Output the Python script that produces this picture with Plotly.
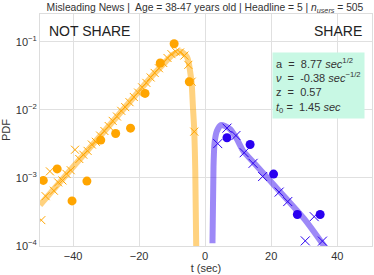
import plotly.graph_objects as go

# ---- data ----
ns_circ_t = [-49.0, -44.8, -40.3, -35.8, -31.6, -27.1, -22.6, -18.2, -13.6, -9.4, -4.8]
ns_circ_y = [9.2e-4, 1.36e-3, 4.6e-4, 9.0e-4, 3.6e-3, 4.5e-3, 5.4e-3, 1.75e-2, 4.9e-2, 9.4e-2, 2.6e-2]

ns_x_t = [-49.6, -48.3, -47.0, -45.8, -44.5, -43.2, -42.0, -40.7, -39.4, -38.1, -36.9, -35.6,
          -34.3, -33.1, -31.8, -30.5, -29.2, -28.0, -26.7, -25.4, -24.2, -22.9, -21.6, -20.3,
          -19.1, -17.8, -16.5, -15.3, -14.0, -12.7, -11.4, -10.2, -8.9, -7.6, -6.3, -5.1, -4.1, -3.3]
ns_x_y = [2.4e-4, 5.4e-4, 1.25e-3, 6.5e-4, 8.6e-4, 9.2e-4, 1.15e-3, 1.3e-3, 2.6e-3, 1.9e-3, 2.2e-3, 2.5e-3,
          3.1e-3, 3.4e-3, 4.2e-3, 4.9e-3, 5.8e-3, 6.9e-3, 8.0e-3, 9.7e-3, 1.1e-2, 1.3e-2, 1.55e-2, 1.8e-2,
          2.15e-2, 2.5e-2, 3.0e-2, 3.5e-2, 4.1e-2, 4.9e-2, 5.8e-2, 6.6e-2, 7.2e-2, 7.0e-2, 6.3e-2, 4.6e-2, 2.6e-2, 4.8e-3]

ns_fit_t = [-50, -40, -30, -20, -15, -12, -10, -8.5, -7.5, -6.5, -5.5, -5.0, -4.6, -4.1, -3.7, -3.3, -3.0, -2.7]
ns_fit_y = [4.0e-4, 1.45e-3, 5.2e-3, 1.9e-2, 3.6e-2, 5.1e-2, 6.4e-2, 7.0e-2, 7.2e-2, 6.8e-2, 6.0e-2,
            5.0e-2, 3.8e-2, 2.5e-2, 1.1e-2, 5.0e-3, 1.3e-3, 9.0e-5]

sh_circ_t = [6.6, 13.6, 20.7, 27.9, 34.8]
sh_circ_y = [3.9e-3, 3.1e-3, 1.14e-3, 2.9e-4, 2.9e-4]

sh_x_t = [3.8, 6.6, 9.3, 11.8, 14.5, 17.4, 22.4, 25.0, 30.3, 33.0, 35.5]
sh_x_y = [3.2e-3, 5.4e-3, 4.2e-3, 2.35e-3, 1.64e-3, 1.05e-3, 6.2e-4, 4.5e-4, 1.19e-4, 2.7e-4, 1.18e-4]

sh_fit_t = [2.21, 2.52, 2.82, 3.55, 4.76, 6.0, 7.58, 9.5, 11.5, 15, 20, 25, 30, 36, 37]
sh_fit_y = [1.1e-4, 1.45e-3, 3.2e-3, 4.9e-3, 6.0e-3, 5.8e-3, 5.2e-3, 3.8e-3, 2.5e-3, 1.62e-3, 8.7e-4, 4.7e-4, 2.5e-4, 1.0e-4, 8.5e-5]

x_ticks = [-40, -20, 0, 20, 40]
x_tick_text = ["\u221240", "\u221220", "0", "20", "40"]
y_ticks = [1e-4, 1e-3, 1e-2, 1e-1]
y_tick_text = ["10<sup>\u22124</sup>", "10<sup>\u22123</sup>", "10<sup>\u22122</sup>", "10<sup>\u22121</sup>"]

ORANGE = "#FFA500"
ORANGE_LINE = "rgba(255,165,0,0.5)"
BLUE = "#2A00F0"
BLUE_LINE = "rgba(60,20,240,0.5)"

fig = go.Figure()
fig.add_trace(go.Scatter(x=ns_fit_t, y=ns_fit_y, mode="lines", line=dict(color=ORANGE_LINE, width=6, shape="spline", smoothing=0.6), showlegend=False, hoverinfo="skip"))
fig.add_trace(go.Scatter(x=sh_fit_t, y=sh_fit_y, mode="lines", line=dict(color=BLUE_LINE, width=6, shape="spline", smoothing=0.6), showlegend=False, hoverinfo="skip"))
fig.add_trace(go.Scatter(x=ns_x_t, y=ns_x_y, mode="markers", marker=dict(symbol="x-thin", size=8, line=dict(color=ORANGE, width=1)), showlegend=False))
fig.add_trace(go.Scatter(x=sh_x_t, y=sh_x_y, mode="markers", marker=dict(symbol="x-thin", size=9, line=dict(color=BLUE, width=1)), showlegend=False))
fig.add_trace(go.Scatter(x=ns_circ_t, y=ns_circ_y, mode="markers", marker=dict(symbol="circle", size=9, color=ORANGE), showlegend=False))
fig.add_trace(go.Scatter(x=sh_circ_t, y=sh_circ_y, mode="markers", marker=dict(symbol="circle", size=9, color=BLUE), showlegend=False))

FONT = "Liberation Sans, Arial, sans-serif"

fig.update_layout(
    width=374, height=275,
    margin=dict(l=40, r=2, t=14, b=29),
    paper_bgcolor="white", plot_bgcolor="white",
    font=dict(family=FONT, size=11, color="#333"),
    title=dict(text="Misleading News |  Age = 38-47 years old | Headline = 5 | <i>n</i><sub><i>users</i></sub> = 505",
               x=0.548, xanchor="center", y=0.972, yanchor="middle", font=dict(size=10.3, color="#333")),
    xaxis=dict(range=[-50, 50.5], tickvals=x_ticks, ticktext=x_tick_text, showgrid=True, gridcolor="#e0e0e0",
               zeroline=False, showline=True, linecolor="#dddddd", mirror=True, ticks="",
               title=dict(text="t (sec)", standoff=2, font=dict(size=11))),
    yaxis=dict(type="log", range=[-4, -0.59], tickvals=y_ticks, ticktext=y_tick_text, showgrid=True, gridcolor="#e0e0e0",
               zeroline=False, showline=True, linecolor="#dddddd", mirror=True, ticks="",
               title=dict(text="PDF", standoff=4, font=dict(size=11))),
    annotations=[
        dict(text="NOT SHARE", xref="paper", yref="paper", x=0.02, y=0.925, xanchor="left", yanchor="middle",
             showarrow=False, font=dict(size=14, color="#222")),
        dict(text="SHARE", xref="paper", yref="paper", x=0.975, y=0.925, xanchor="right", yanchor="middle",
             showarrow=False, font=dict(size=14, color="#222")),
        dict(text="a  =  8.77 <i>sec</i><sup>1/2</sup><br><i>\u03bd</i>  =  -0.38 <i>sec</i><sup>\u22121/2</sup><br>z  =  0.57<br><i>t</i><sub>0</sub> =  1.45 <i>sec</i>",
             xref="paper", yref="paper", x=0.70, y=0.835, xanchor="left", yanchor="top", align="left",
             showarrow=False, bgcolor="#c8f8e4", borderpad=3, font=dict(size=11, color="#333")),
    ],
)

fig.write_html("out.html", config={"displayModeBar": False},
               post_script="document.body.style.margin='0';document.body.style.padding='0';")
